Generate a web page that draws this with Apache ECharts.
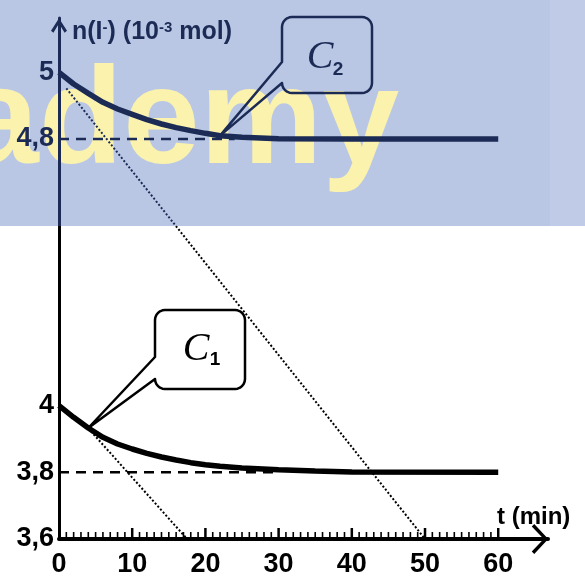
<!DOCTYPE html>
<html><head><meta charset="utf-8">
<script src="https://cdn.jsdelivr.net/npm/echarts@6/dist/echarts.min.js"></script>
<style>html,body{margin:0;padding:0;background:#fff}#c{width:585px;height:581px}</style>
</head><body><div id="c"></div>
<script>
// ---- data ----
const xTickValues = [0, 10, 20, 30, 40, 50, 60];
const xMinorTickValues = [1,2,3,4,5,6,7,8,9, 11,12,13,14,15,16,17,18,19, 21,22,23,24,25,26,27,28,29,
  31,32,33,34,35,36,37,38,39, 41,42,43,44,45,46,47,48,49, 51,52,53,54,55,56,57,58,59];
const yLabelValues = [3.6, 3.8, 4, 4.8, 5];

const c1Times  = [0, 2, 4, 6, 8, 10, 12, 14, 16, 18, 20, 22, 25, 30, 35, 40, 60];
const c1Values = [4.0, 3.965, 3.933, 3.905, 3.885, 3.87, 3.857, 3.846, 3.837, 3.829, 3.823, 3.818, 3.813, 3.808, 3.804, 3.801, 3.8];
const c2Times  = [0, 2, 4, 6, 8, 10, 12, 14, 16, 18, 20, 22, 25, 30, 40, 60];
const c2Values = [5.0, 4.965, 4.937, 4.91, 4.89, 4.874, 4.858, 4.845, 4.834, 4.825, 4.817, 4.81, 4.805, 4.801, 4.8, 4.8];

const tangent1Times = [4, 17.5];
const tangent1Values = [3.932, 3.6];
const tangent2Times = [1, 50];
const tangent2Values = [4.952, 3.6];

const limit1Times = [0, 30];
const limit1Values = [3.8, 3.8];
const limit2Times = [0, 24];
const limit2Values = [4.8, 4.8];

const c1TipIndex = 2;   // callout 1 points at c1 (t=4)
const c2TipIndex = 11;  // callout 2 points at c2 (t=22)

// ---- styling ----
const NAVY = '#1b2b55';
const SPLIT = 226;
const Y_MIN = 3.6;
const FONT = "'Liberation Sans', Arial, sans-serif";
function zip(a, b) { return a.map((v, i) => [v, b[i]]); }
function grad() {
  return { type: 'linear', x: 0, y: 0, x2: 0, y2: 581, global: true,
    colorStops: [
      { offset: 0, color: NAVY }, { offset: SPLIT / 581, color: NAVY },
      { offset: SPLIT / 581 + 0.0005, color: '#000' }, { offset: 1, color: '#000' }
    ] };
}
function lineSeries(name, data, width, type) {
  return { name, type: 'line', data, showSymbol: false, symbol: 'none', silent: true,
    lineStyle: { color: grad(), width, type: type || 'solid', cap: 'butt' },
    itemStyle: { color: '#000' } };
}

const chart = echarts.init(document.getElementById('c'), null, { renderer: 'canvas', width: 585, height: 581 });
const option = {
  animation: false,
  backgroundColor: '#fff',
  grid: { left: 59, right: 37, top: 18, bottom: 42, containLabel: false },
  xAxis: {
    type: 'value', min: 0, max: 66.8, position: 'bottom',
    axisLine: { show: true, onZero: false, lineStyle: { color: '#000', width: 4 },
      symbol: ['none', 'path://M15,0L30,14L27.6,16.5L15,4.5L2.4,16.5L0,14Z'],
      symbolSize: [30, 16.5], symbolOffset: [0, -8] },
    axisTick: { show: false },
    axisLabel: { show: true, customValues: xTickValues, color: '#000', fontFamily: FONT, fontWeight: 'bold', fontSize: 27, margin: 12 },
    splitLine: { show: false }
  },
  yAxis: {
    type: 'value', min: Y_MIN, max: 5.163,
    axisLine: { show: true, onZero: false, lineStyle: { color: grad(), width: 3 },
      symbol: ['none', 'path://M8,0L16,12.5L13.6,14.5L8,5.2L2.4,14.5L0,12.5Z'],
      symbolSize: [16, 15], symbolOffset: [0, -7.5] },
    axisTick: { show: false },
    axisLabel: { show: true, customValues: yLabelValues, fontFamily: FONT, fontWeight: 'bold', fontSize: 27, margin: 5,
      color: v => (v > 4.5 ? NAVY : '#000'),
      formatter: v => String(v).replace('.', ',') },
    splitLine: { show: false }
  },
  series: [
    lineSeries('limit1', zip(limit1Times, limit1Values), 2.5, [10, 7]),
    lineSeries('limit2', zip(limit2Times, limit2Values), 2.5, [10, 7]),
    lineSeries('tangent1', zip(tangent1Times, tangent1Values), 2, [2, 2]),
    lineSeries('tangent2', zip(tangent2Times, tangent2Values), 2, [2, 2]),
    lineSeries('C1', zip(c1Times, c1Values), 5.5),
    lineSeries('C2', zip(c2Times, c2Values), 5.5)
  ]
};
chart.setOption(option);

// callout outline: rounded box with a wedge on its left side pointing at tip
function calloutPoints(L, T, R, B, r, attachY, tip) {
  const pts = [[L, attachY]];
  function arc(cx, cy, a0, a1) {
    const n = 6;
    for (let i = 0; i <= n; i++) {
      const a = (a0 + (a1 - a0) * i / n) * Math.PI / 180;
      pts.push([cx + r * Math.cos(a), cy + r * Math.sin(a)]);
    }
  }
  arc(L + r, T + r, 180, 270);
  arc(R - r, T + r, 270, 360);
  arc(R - r, B - r, 0, 90);
  arc(L + r, B - r, 90, 180);
  pts.push([tip[0], tip[1]]);
  return pts;
}
const tip1 = chart.convertToPixel({ gridIndex: 0 }, [c1Times[c1TipIndex], c1Values[c1TipIndex]]);
const tip2 = chart.convertToPixel({ gridIndex: 0 }, [c2Times[c2TipIndex], c2Values[c2TipIndex]]);

// x-axis ticks placed through the axis scale, drawn as thin filled rects
function tickElements(values, len, width, prefix) {
  return values.map((v, i) => {
    const p = chart.convertToPixel({ gridIndex: 0 }, [v, Y_MIN]);
    return { id: prefix + i, type: 'rect', z: 5, silent: true,
      shape: { x: p[0] - width / 2, y: p[1] - len, width: width, height: len },
      style: { fill: '#000' } };
  });
}

const elements = [
  { id: 'bg1', type: 'rect', z: -20, silent: true, shape: { x: 0, y: 0, width: 550, height: SPLIT }, style: { fill: '#b9c7e4' } },
  { id: 'bg2', type: 'rect', z: -20, silent: true, shape: { x: 550, y: 0, width: 35, height: SPLIT }, style: { fill: '#c0cce7' } },
  { id: 'wm', type: 'text', z: -19, silent: true, x: -38, y: 125,
    style: { text: 'ademy', font: "bold 138px " + FONT, fill: '#fbf2ad', verticalAlign: 'middle', align: 'left' } },
  { id: 'yname', type: 'text', z: 10, silent: true, x: 72, y: 20,
    style: { text: 'n(I{s|-}) (10{s|-3} mol)', fill: NAVY, verticalAlign: 'top', align: 'left',
      font: "bold 25px " + FONT,
      rich: { s: { fontSize: 15, fontWeight: 'bold', fontFamily: FONT, fill: NAVY, verticalAlign: 'top' } } } },
  { id: 'xname', type: 'text', z: 10, silent: true, x: 497, y: 517,
    style: { text: 't (min)', fill: '#000', verticalAlign: 'middle', align: 'left', font: "bold 24px " + FONT } },
  { id: 'call2', type: 'polygon', z: 10, silent: true,
    shape: { points: calloutPoints(282, 17, 372, 93, 10, 62, tip2) },
    style: { fill: 'none', stroke: NAVY, lineWidth: 2.5, lineJoin: 'round' } },
  { id: 'call1', type: 'polygon', z: 10, silent: true,
    shape: { points: calloutPoints(155, 310, 245, 389, 10, 357, tip1) },
    style: { fill: '#fff', stroke: '#000', lineWidth: 2.5, lineJoin: 'round' } },
  { id: 'c2t', type: 'text', z: 11, silent: true, x: 320, y: 57,
    style: { text: 'C', font: "italic 40px 'Liberation Serif', 'DejaVu Serif', serif", fill: NAVY, align: 'center', verticalAlign: 'middle' } },
  { id: 'c2s', type: 'text', z: 11, silent: true, x: 338, y: 70,
    style: { text: '2', font: "bold 19px " + FONT, fill: NAVY, align: 'center', verticalAlign: 'middle' } },
  { id: 'c1t', type: 'text', z: 11, silent: true, x: 196, y: 349,
    style: { text: 'C', font: "italic 40px 'Liberation Serif', 'DejaVu Serif', serif", fill: '#000', align: 'center', verticalAlign: 'middle' } },
  { id: 'c1s', type: 'text', z: 11, silent: true, x: 215, y: 360,
    style: { text: '1', font: "bold 19px " + FONT, fill: '#000', align: 'center', verticalAlign: 'middle' } }
].concat(tickElements(xTickValues.slice(1), 11, 2.5, 'tM'), tickElements(xMinorTickValues, 7, 1.6, 'tm'));

chart.setOption({ graphic: { elements } });
</script></body></html>
